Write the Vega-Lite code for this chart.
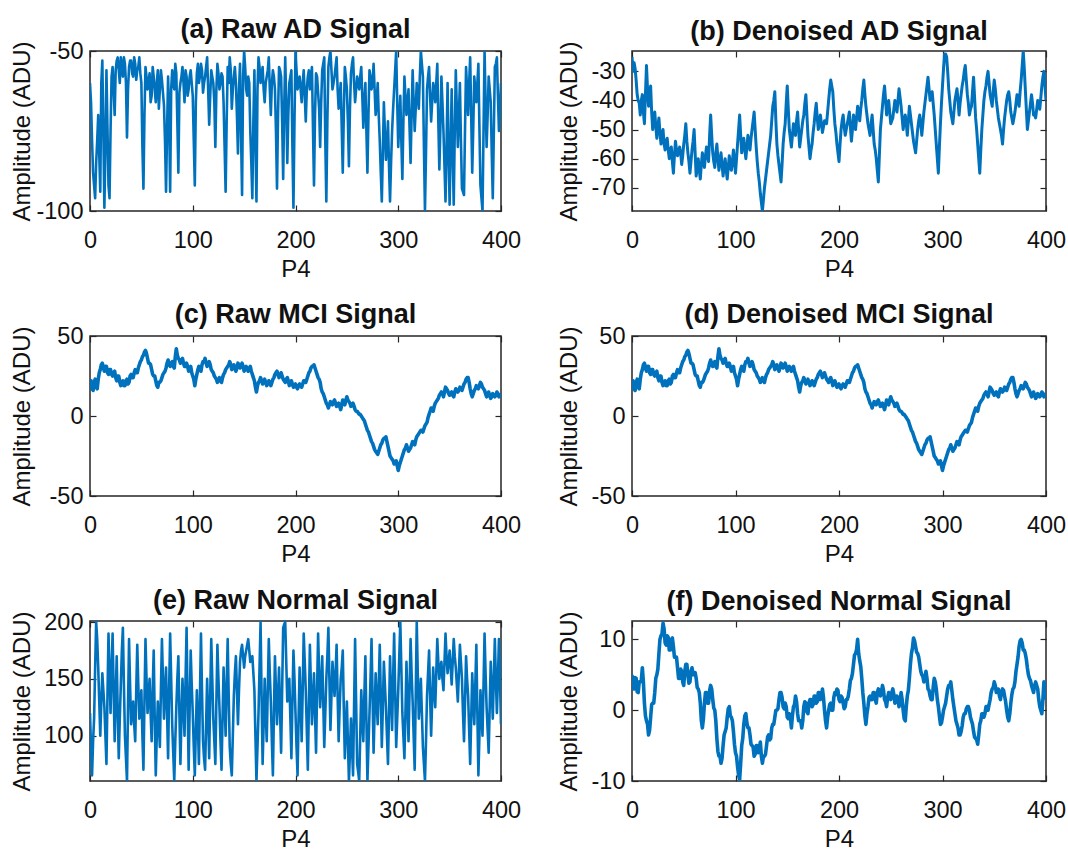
{
"$schema": "https://vega.github.io/schema/vega-lite/v6.json",
"background": "white",
"padding": {"left": 9, "top": 15, "right": 0, "bottom": 0},
"bounds": "flush",
"columns": 2,
"spacing": {"row": 125, "column": 131},
"config": {
  "font": "Liberation Sans",
  "view": {"stroke": "#262626", "strokeWidth": 1.5},
  "axis": {"grid": false, "domain": false, "ticks": true, "tickSize": -6, "tickColor": "#262626", "tickWidth": 1.2, "labelFontSize": 23.5, "labelColor": "#111", "labelPadding": 13, "labelFlush": false, "labelOverlap": false, "labelExpr": "'' + datum.value", "titleFontSize": 24, "titleFontWeight": "normal", "titleColor": "#111"},
  "title": {"fontSize": 27, "fontWeight": "bold", "color": "#111", "offset": -5, "anchor": "middle"},
  "line": {"color": "#0072BD", "strokeWidth": 2.6, "strokeJoin": "round"}
},
"datasets": {"sig": [
{"x":0,"a":-60,"b":-25,"c":20,"e":120,"f":5},
{"x":2,"a":-78,"b":-27,"c":17,"e":65,"f":3},
{"x":4,"a":-92,"b":-33,"c":21,"e":115,"f":4.5},
{"x":6,"a":-85,"b":-40,"c":18,"e":200,"f":2.5},
{"x":8,"a":-70,"b":-45,"c":23,"e":160,"f":4},
{"x":10,"a":-94,"b":-38,"c":29,"e":100,"f":6},
{"x":12,"a":-53,"b":-48,"c":33,"e":155,"f":1},
{"x":14,"a":-99,"b":-28,"c":28,"e":125,"f":-1.5},
{"x":16,"a":-56,"b":-42,"c":31,"e":75,"f":-3.5},
{"x":18,"a":-92,"b":-35,"c":26,"e":190,"f":-1},
{"x":20,"a":-75,"b":-50,"c":29,"e":120,"f":1},
{"x":22,"a":-55,"b":-44,"c":25,"e":190,"f":2.5},
{"x":24,"a":-70,"b":-53,"c":28,"e":95,"f":5},
{"x":26,"a":-53,"b":-46,"c":22,"e":170,"f":8},
{"x":28,"a":-56,"b":-55,"c":25,"e":80,"f":10.5},
{"x":30,"a":-52,"b":-50,"c":19,"e":145,"f":12.3},
{"x":32,"a":-58,"b":-57,"c":22,"e":195,"f":9.5},
{"x":34,"a":-54,"b":-53,"c":19,"e":100,"f":10.5},
{"x":36,"a":-77,"b":-60,"c":23,"e":60,"f":8.5},
{"x":38,"a":-55,"b":-56,"c":21,"e":185,"f":10},
{"x":40,"a":-53,"b":-65,"c":26,"e":110,"f":9},
{"x":42,"a":-58,"b":-54,"c":24,"e":130,"f":7.5},
{"x":44,"a":-54,"b":-59,"c":29,"e":95,"f":6},
{"x":46,"a":-56,"b":-56,"c":27,"e":180,"f":4.5},
{"x":48,"a":-52,"b":-62,"c":32,"e":115,"f":5.5},
{"x":50,"a":-60,"b":-55,"c":35,"e":140,"f":3.5},
{"x":52,"a":-93,"b":-48,"c":38,"e":70,"f":6.5},
{"x":54,"a":-55,"b":-58,"c":41,"e":185,"f":5},
{"x":56,"a":-62,"b":-65,"c":36,"e":120,"f":4},
{"x":58,"a":-57,"b":-57,"c":33,"e":150,"f":6},
{"x":60,"a":-64,"b":-50,"c":29,"e":95,"f":5},
{"x":62,"a":-58,"b":-66,"c":25,"e":175,"f":4.5},
{"x":64,"a":-66,"b":-60,"c":22,"e":65,"f":3},
{"x":66,"a":-56,"b":-67,"c":18,"e":130,"f":1},
{"x":68,"a":-62,"b":-58,"c":21,"e":90,"f":-2.5},
{"x":70,"a":-59,"b":-63,"c":24,"e":185,"f":1},
{"x":72,"a":-67,"b":-56,"c":27,"e":115,"f":2.5},
{"x":74,"a":-94,"b":-61,"c":30,"e":160,"f":1},
{"x":76,"a":-58,"b":-45,"c":35,"e":80,"f":3.5},
{"x":78,"a":-94,"b":-58,"c":31,"e":190,"f":1.5},
{"x":80,"a":-56,"b":-63,"c":34,"e":110,"f":0},
{"x":82,"a":-62,"b":-55,"c":30,"e":60,"f":-4},
{"x":84,"a":-57,"b":-64,"c":42,"e":125,"f":-6.5},
{"x":86,"a":-88,"b":-58,"c":36,"e":170,"f":-7.5},
{"x":88,"a":-60,"b":-66,"c":33,"e":75,"f":-5},
{"x":90,"a":-55,"b":-60,"c":36,"e":150,"f":-3},
{"x":92,"a":-66,"b":-67,"c":31,"e":100,"f":-1},
{"x":94,"a":-58,"b":-59,"c":33,"e":195,"f":0.5},
{"x":96,"a":-62,"b":-64,"c":28,"e":70,"f":-1},
{"x":98,"a":-56,"b":-57,"c":31,"e":175,"f":-3},
{"x":100,"a":-64,"b":-65,"c":25,"e":120,"f":-6},
{"x":102,"a":-92,"b":-55,"c":19,"e":65,"f":-8},
{"x":104,"a":-57,"b":-45,"c":26,"e":140,"f":-9.8},
{"x":106,"a":-60,"b":-58,"c":31,"e":75,"f":-5},
{"x":108,"a":-54,"b":-53,"c":28,"e":190,"f":-2},
{"x":110,"a":-63,"b":-60,"c":34,"e":95,"f":-0.5},
{"x":112,"a":-58,"b":-52,"c":36,"e":70,"f":-2.5},
{"x":114,"a":-52,"b":-57,"c":31,"e":150,"f":-3.5},
{"x":116,"a":-73,"b":-50,"c":34,"e":80,"f":-5},
{"x":118,"a":-56,"b":-44,"c":29,"e":185,"f":-6.5},
{"x":120,"a":-60,"b":-56,"c":27,"e":115,"f":-5},
{"x":122,"a":-80,"b":-65,"c":24,"e":75,"f":-6},
{"x":124,"a":-54,"b":-72,"c":21,"e":180,"f":-4.5},
{"x":126,"a":-62,"b":-78,"c":24,"e":125,"f":-7.5},
{"x":128,"a":-57,"b":-70,"c":21,"e":70,"f":-6.5},
{"x":130,"a":-66,"b":-64,"c":26,"e":160,"f":-5},
{"x":132,"a":-94,"b":-58,"c":29,"e":100,"f":-3.5},
{"x":134,"a":-55,"b":-52,"c":31,"e":185,"f":-4},
{"x":136,"a":-52,"b":-42,"c":34,"e":90,"f":-2},
{"x":138,"a":-68,"b":-37,"c":29,"e":65,"f":-1},
{"x":140,"a":-58,"b":-55,"c":32,"e":135,"f":0},
{"x":142,"a":-60,"b":-62,"c":28,"e":170,"f":1.5},
{"x":144,"a":-82,"b":-68,"c":33,"e":110,"f":2.5},
{"x":146,"a":-54,"b":-55,"c":30,"e":165,"f":0.5},
{"x":148,"a":-95,"b":-48,"c":33,"e":180,"f":1},
{"x":150,"a":-50,"b":-35,"c":28,"e":160,"f":-1},
{"x":152,"a":-62,"b":-50,"c":31,"e":175,"f":-0.5},
{"x":154,"a":-58,"b":-56,"c":28,"e":185,"f":-2.5},
{"x":156,"a":-75,"b":-48,"c":31,"e":165,"f":0.5},
{"x":158,"a":-96,"b":-52,"c":26,"e":170,"f":2},
{"x":160,"a":-56,"b":-44,"c":22,"e":140,"f":-0.5},
{"x":162,"a":-97,"b":-56,"c":15,"e":60,"f":-1.5},
{"x":164,"a":-52,"b":-50,"c":21,"e":120,"f":-2.5},
{"x":166,"a":-60,"b":-45,"c":24,"e":200,"f":0.5},
{"x":168,"a":-55,"b":-38,"c":20,"e":75,"f":1},
{"x":170,"a":-66,"b":-52,"c":23,"e":150,"f":-0.5},
{"x":172,"a":-58,"b":-60,"c":19,"e":95,"f":1.5},
{"x":174,"a":-52,"b":-55,"c":22,"e":185,"f":0.5},
{"x":176,"a":-70,"b":-48,"c":19,"e":130,"f":2},
{"x":178,"a":-56,"b":-41,"c":23,"e":65,"f":1},
{"x":180,"a":-62,"b":-50,"c":26,"e":170,"f":2.5},
{"x":182,"a":-93,"b":-45,"c":28,"e":110,"f":1.5},
{"x":184,"a":-55,"b":-51,"c":24,"e":160,"f":3},
{"x":186,"a":-58,"b":-47,"c":27,"e":85,"f":0},
{"x":188,"a":-90,"b":-48,"c":23,"e":195,"f":-2.5},
{"x":190,"a":-52,"b":-40,"c":21,"e":200,"f":0},
{"x":192,"a":-85,"b":-33,"c":24,"e":130,"f":1},
{"x":194,"a":-60,"b":-37,"c":19,"e":150,"f":0},
{"x":196,"a":-56,"b":-48,"c":22,"e":80,"f":2.5},
{"x":198,"a":-99,"b":-55,"c":18,"e":175,"f":3},
{"x":200,"a":-50,"b":-61,"c":20,"e":120,"f":1.5},
{"x":202,"a":-62,"b":-50,"c":17,"e":65,"f":2},
{"x":204,"a":-58,"b":-45,"c":20,"e":160,"f":1},
{"x":206,"a":-66,"b":-52,"c":18,"e":95,"f":0.5},
{"x":208,"a":-56,"b":-48,"c":22,"e":190,"f":1.5},
{"x":210,"a":-72,"b":-44,"c":21,"e":140,"f":3},
{"x":212,"a":-58,"b":-54,"c":25,"e":70,"f":4.5},
{"x":214,"a":-62,"b":-45,"c":28,"e":180,"f":6.5},
{"x":216,"a":-55,"b":-50,"c":31,"e":110,"f":8},
{"x":218,"a":-92,"b":-42,"c":32,"e":155,"f":10},
{"x":220,"a":-57,"b":-47,"c":28,"e":85,"f":7},
{"x":222,"a":-63,"b":-40,"c":24,"e":190,"f":4.5},
{"x":224,"a":-80,"b":-33,"c":21,"e":125,"f":1},
{"x":226,"a":-56,"b":-42,"c":15,"e":170,"f":-2},
{"x":228,"a":-52,"b":-48,"c":12,"e":90,"f":0.5},
{"x":230,"a":-97,"b":-52,"c":8,"e":150,"f":2},
{"x":232,"a":-55,"b":-45,"c":5,"e":195,"f":1.5},
{"x":234,"a":-50,"b":-55,"c":9,"e":105,"f":2.5},
{"x":236,"a":-62,"b":-60,"c":7,"e":165,"f":1},
{"x":238,"a":-58,"b":-68,"c":10,"e":135,"f":3},
{"x":240,"a":-52,"b":-50,"c":6,"e":180,"f":2},
{"x":242,"a":-68,"b":-42,"c":8,"e":95,"f":3.5},
{"x":244,"a":-60,"b":-35,"c":4,"e":150,"f":1.5},
{"x":246,"a":-88,"b":-45,"c":10,"e":175,"f":0.5},
{"x":248,"a":-55,"b":-40,"c":7,"e":80,"f":2.5},
{"x":250,"a":-62,"b":-48,"c":12,"e":130,"f":1.5},
{"x":252,"a":-86,"b":-46,"c":9,"e":60,"f":3},
{"x":254,"a":-57,"b":-40,"c":6,"e":115,"f":1},
{"x":256,"a":-52,"b":-44,"c":8,"e":65,"f":2},
{"x":258,"a":-66,"b":-36,"c":4,"e":185,"f":0.5},
{"x":260,"a":-58,"b":-42,"c":3,"e":75,"f":2.5},
{"x":262,"a":-62,"b":-50,"c":1,"e":60,"f":0},
{"x":264,"a":-55,"b":-45,"c":0,"e":140,"f":-1.5},
{"x":266,"a":-74,"b":-52,"c":-2,"e":95,"f":2},
{"x":268,"a":-60,"b":-42,"c":-5,"e":170,"f":4.5},
{"x":270,"a":-88,"b":-48,"c":-9,"e":60,"f":8},
{"x":272,"a":-56,"b":-54,"c":-12,"e":120,"f":10.2},
{"x":274,"a":-62,"b":-58,"c":-16,"e":185,"f":9},
{"x":276,"a":-54,"b":-50,"c":-19,"e":85,"f":8},
{"x":278,"a":-70,"b":-45,"c":-22,"e":155,"f":6.5},
{"x":280,"a":-60,"b":-52,"c":-24,"e":110,"f":5},
{"x":282,"a":-78,"b":-44,"c":-20,"e":180,"f":4},
{"x":284,"a":-97,"b":-38,"c":-17,"e":90,"f":5.5},
{"x":286,"a":-66,"b":-32,"c":-14,"e":165,"f":3},
{"x":288,"a":-84,"b":-40,"c":-13,"e":125,"f":2},
{"x":290,"a":-72,"b":-37,"c":-19,"e":75,"f":1.5},
{"x":292,"a":-97,"b":-45,"c":-25,"e":170,"f":4.5},
{"x":294,"a":-75,"b":-55,"c":-27,"e":105,"f":3},
{"x":296,"a":-62,"b":-65,"c":-30,"e":190,"f":0.5},
{"x":298,"a":-50,"b":-48,"c":-28,"e":90,"f":-2},
{"x":300,"a":-80,"b":-35,"c":-34,"e":140,"f":-1},
{"x":302,"a":-64,"b":-24,"c":-29,"e":200,"f":0.5},
{"x":304,"a":-90,"b":-25,"c":-25,"e":120,"f":2},
{"x":306,"a":-58,"b":-36,"c":-21,"e":80,"f":3.5},
{"x":308,"a":-70,"b":-44,"c":-18,"e":165,"f":4},
{"x":310,"a":-62,"b":-48,"c":-22,"e":95,"f":1.5},
{"x":312,"a":-85,"b":-40,"c":-20,"e":185,"f":-0.5},
{"x":314,"a":-56,"b":-36,"c":-16,"e":130,"f":-2},
{"x":316,"a":-75,"b":-45,"c":-18,"e":70,"f":-3.5},
{"x":318,"a":-60,"b":-38,"c":-13,"e":200,"f":-3},
{"x":320,"a":-68,"b":-33,"c":-11,"e":115,"f":-1},
{"x":322,"a":-50,"b":-28,"c":-9,"e":150,"f":-0.5},
{"x":324,"a":-58,"b":-38,"c":-10,"e":90,"f":0.5},
{"x":326,"a":-100,"b":-45,"c":-6,"e":60,"f":0},
{"x":328,"a":-62,"b":-42,"c":-4,"e":135,"f":-1.5},
{"x":330,"a":-55,"b":-32,"c":1,"e":175,"f":-3},
{"x":332,"a":-72,"b":-46,"c":5,"e":100,"f":-4},
{"x":334,"a":-60,"b":-55,"c":3,"e":160,"f":-4.8},
{"x":336,"a":-66,"b":-65,"c":8,"e":125,"f":-2},
{"x":338,"a":-54,"b":-50,"c":10,"e":185,"f":-0.5},
{"x":340,"a":-87,"b":-40,"c":13,"e":150,"f":-1},
{"x":342,"a":-58,"b":-35,"c":15,"e":165,"f":0.5},
{"x":344,"a":-75,"b":-30,"c":12,"e":140,"f":0},
{"x":346,"a":-97,"b":-38,"c":18,"e":190,"f":1.5},
{"x":348,"a":-60,"b":-42,"c":16,"e":155,"f":3},
{"x":350,"a":-98,"b":-33,"c":13,"e":175,"f":4},
{"x":352,"a":-62,"b":-40,"c":15,"e":145,"f":2.5},
{"x":354,"a":-98,"b":-46,"c":12,"e":185,"f":3},
{"x":356,"a":-56,"b":-50,"c":17,"e":160,"f":1.5},
{"x":358,"a":-80,"b":-55,"c":15,"e":130,"f":3},
{"x":360,"a":-60,"b":-46,"c":18,"e":180,"f":2},
{"x":362,"a":-93,"b":-40,"c":16,"e":150,"f":0},
{"x":364,"a":-95,"b":-37,"c":20,"e":95,"f":-1.5},
{"x":366,"a":-55,"b":-44,"c":23,"e":170,"f":1},
{"x":368,"a":-70,"b":-48,"c":24,"e":135,"f":3},
{"x":370,"a":-52,"b":-44,"c":17,"e":75,"f":4},
{"x":372,"a":-88,"b":-38,"c":12,"e":155,"f":6.5},
{"x":374,"a":-58,"b":-42,"c":16,"e":110,"f":9},
{"x":376,"a":-66,"b":-33,"c":19,"e":180,"f":10},
{"x":378,"a":-54,"b":-23,"c":17,"e":65,"f":8.5},
{"x":380,"a":-92,"b":-36,"c":21,"e":140,"f":8},
{"x":382,"a":-100,"b":-50,"c":18,"e":100,"f":6},
{"x":384,"a":-50,"b":-44,"c":16,"e":190,"f":4.5},
{"x":386,"a":-80,"b":-38,"c":12,"e":125,"f":3.5},
{"x":388,"a":-58,"b":-45,"c":15,"e":85,"f":2.5},
{"x":390,"a":-66,"b":-46,"c":11,"e":165,"f":4},
{"x":392,"a":-96,"b":-40,"c":14,"e":115,"f":3},
{"x":394,"a":-55,"b":-43,"c":12,"e":185,"f":0.5},
{"x":396,"a":-52,"b":-35,"c":15,"e":120,"f":-0.5},
{"x":398,"a":-75,"b":-30,"c":12,"e":185,"f":4},
{"x":400,"a":-60,"b":-40,"c":14,"e":110,"f":1.5},
{"x":1,"a":-66,"b":-30,"c":22,"e":90,"f":3.2},
{"x":3,"a":-88,"b":-29,"c":16,"e":95,"f":4.6},
{"x":5,"a":-96,"b":-38,"c":23,"e":160,"f":2.6},
{"x":7,"a":-78,"b":-41,"c":17,"e":185,"f":4},
{"x":9,"a":-82,"b":-40,"c":27,"e":130,"f":4.2},
{"x":11,"a":-60,"b":-44,"c":32,"e":130,"f":4},
{"x":13,"a":-75,"b":-38,"c":30,"e":140,"f":-0.8},
{"x":15,"a":-80,"b":-36,"c":31,"e":100,"f":-2},
{"x":17,"a":-74,"b":-39,"c":27,"e":135,"f":-2.8},
{"x":19,"a":-96,"b":-44,"c":29,"e":155,"f":0.8},
{"x":21,"a":-58,"b":-46,"c":26,"e":160,"f":1},
{"x":23,"a":-62,"b":-49,"c":27,"e":140,"f":4.5},
{"x":25,"a":-56,"b":-49,"c":24,"e":135,"f":5.8},
{"x":27,"a":-52,"b":-51,"c":25,"e":120,"f":10},
{"x":29,"a":-60,"b":-52,"c":21,"e":115,"f":10.8},
{"x":31,"a":-55,"b":-55,"c":21,"e":175,"f":11.5},
{"x":33,"a":-52,"b":-54,"c":19,"e":145,"f":9.2},
{"x":35,"a":-60,"b":-57,"c":22,"e":80,"f":10.3},
{"x":37,"a":-62,"b":-57,"c":20,"e":125,"f":8.5},
{"x":39,"a":-53,"b":-61,"c":25,"e":145,"f":10.2},
{"x":41,"a":-57,"b":-59,"c":24,"e":120,"f":7.5},
{"x":43,"a":-52,"b":-57,"c":27,"e":110,"f":7.5},
{"x":45,"a":-59,"b":-58,"c":27,"e":140,"f":4.5},
{"x":47,"a":-55,"b":-58,"c":30,"e":145,"f":5.8},
{"x":49,"a":-57,"b":-59,"c":34,"e":125,"f":4},
{"x":51,"a":-80,"b":-52,"c":37,"e":100,"f":5.5},
{"x":53,"a":-70,"b":-54,"c":40,"e":130,"f":6.5},
{"x":55,"a":-58,"b":-61,"c":39,"e":150,"f":3.8},
{"x":57,"a":-60,"b":-61,"c":33,"e":135,"f":5.5},
{"x":59,"a":-66,"b":-54,"c":32,"e":120,"f":5},
{"x":61,"a":-55,"b":-58,"c":26,"e":140,"f":5.3},
{"x":63,"a":-62,"b":-63,"c":25,"e":115,"f":3.2},
{"x":65,"a":-60,"b":-64,"c":19,"e":100,"f":2.5},
{"x":67,"a":-68,"b":-62,"c":21,"e":110,"f":-1.5},
{"x":69,"a":-56,"b":-61,"c":22,"e":140,"f":-1.2},
{"x":71,"a":-63,"b":-59,"c":26,"e":150,"f":2.5},
{"x":73,"a":-78,"b":-59,"c":28,"e":140,"f":1},
{"x":75,"a":-75,"b":-52,"c":33,"e":120,"f":2.8},
{"x":77,"a":-70,"b":-52,"c":32,"e":140,"f":3},
{"x":79,"a":-62,"b":-61,"c":33,"e":150,"f":0.3},
{"x":81,"a":-60,"b":-58,"c":31,"e":85,"f":-1.5},
{"x":83,"a":-54,"b":-60,"c":37,"e":95,"f":-5.8},
{"x":85,"a":-72,"b":-61,"c":38,"e":150,"f":-6.5},
{"x":87,"a":-63,"b":-62,"c":35,"e":120,"f":-6.8},
{"x":89,"a":-58,"b":-63,"c":35,"e":115,"f":-3.5},
{"x":91,"a":-60,"b":-64,"c":33,"e":125,"f":-2.5},
{"x":93,"a":-56,"b":-63,"c":31,"e":150,"f":0.2},
{"x":95,"a":-64,"b":-62,"c":31,"e":130,"f":-0.8},
{"x":97,"a":-58,"b":-61,"c":30,"e":125,"f":-1.5},
{"x":99,"a":-60,"b":-61,"c":27,"e":145,"f":-4.8},
{"x":101,"a":-78,"b":-60,"c":23,"e":90,"f":-6.5},
{"x":103,"a":-66,"b":-50,"c":23,"e":105,"f":-9.2},
{"x":105,"a":-54,"b":-52,"c":29,"e":110,"f":-7.5},
{"x":107,"a":-58,"b":-55,"c":30,"e":135,"f":-4},
{"x":109,"a":-56,"b":-57,"c":32,"e":140,"f":-0.8},
{"x":111,"a":-60,"b":-56,"c":34,"e":80,"f":-1.8},
{"x":113,"a":-55,"b":-55,"c":33,"e":110,"f":-2.5},
{"x":115,"a":-62,"b":-53,"c":32,"e":115,"f":-4.8},
{"x":117,"a":-64,"b":-47,"c":32,"e":135,"f":-5.2},
{"x":119,"a":-58,"b":-50,"c":28,"e":150,"f":-6.2},
{"x":121,"a":-66,"b":-61,"c":25,"e":95,"f":-5},
{"x":123,"a":-62,"b":-68,"c":23,"e":130,"f":-5.5},
{"x":125,"a":-57,"b":-75,"c":22,"e":150,"f":-6.5},
{"x":127,"a":-60,"b":-74,"c":22,"e":95,"f":-6.5},
{"x":129,"a":-58,"b":-67,"c":24,"e":115,"f":-6.2},
{"x":131,"a":-80,"b":-61,"c":27,"e":130,"f":-3.8},
{"x":133,"a":-72,"b":-55,"c":30,"e":145,"f":-4.2},
{"x":135,"a":-60,"b":-47,"c":32,"e":135,"f":-2.5},
{"x":137,"a":-56,"b":-40,"c":32,"e":75,"f":-2},
{"x":139,"a":-62,"b":-47,"c":31,"e":100,"f":0},
{"x":141,"a":-55,"b":-59,"c":30,"e":155,"f":0.2},
{"x":143,"a":-70,"b":-65,"c":30,"e":140,"f":2.5},
{"x":145,"a":-62,"b":-62,"c":32,"e":140,"f":1.8},
{"x":147,"a":-76,"b":-51,"c":31,"e":175,"f":0.2},
{"x":149,"a":-58,"b":-41,"c":31,"e":170,"f":0.5},
{"x":151,"a":-55,"b":-43,"c":30,"e":170,"f":-1.2},
{"x":153,"a":-64,"b":-53,"c":29,"e":180,"f":-1},
{"x":155,"a":-60,"b":-52,"c":30,"e":175,"f":-0.8},
{"x":157,"a":-85,"b":-50,"c":28,"e":168,"f":0.8},
{"x":159,"a":-72,"b":-47,"c":24,"e":155,"f":1.2},
{"x":161,"a":-78,"b":-50,"c":18,"e":100,"f":-1.5},
{"x":163,"a":-62,"b":-53,"c":19,"e":90,"f":-1.5},
{"x":165,"a":-55,"b":-47,"c":22,"e":160,"f":-1.5},
{"x":167,"a":-58,"b":-41,"c":22,"e":135,"f":1.2},
{"x":169,"a":-62,"b":-45,"c":21,"e":110,"f":-0.2},
{"x":171,"a":-60,"b":-56,"c":21,"e":120,"f":1},
{"x":173,"a":-56,"b":-57,"c":20,"e":140,"f":1.5},
{"x":175,"a":-62,"b":-51,"c":21,"e":155,"f":0.8},
{"x":177,"a":-60,"b":-44,"c":21,"e":95,"f":2},
{"x":179,"a":-58,"b":-46,"c":24,"e":120,"f":1.2},
{"x":181,"a":-75,"b":-48,"c":27,"e":140,"f":2.5},
{"x":183,"a":-70,"b":-48,"c":26,"e":135,"f":1.8},
{"x":185,"a":-56,"b":-49,"c":25,"e":120,"f":1.8},
{"x":187,"a":-72,"b":-47,"c":25,"e":140,"f":-1.5},
{"x":189,"a":-68,"b":-44,"c":22,"e":198,"f":-1},
{"x":191,"a":-66,"b":-36,"c":23,"e":165,"f":0.8},
{"x":193,"a":-70,"b":-35,"c":22,"e":140,"f":0},
{"x":195,"a":-58,"b":-43,"c":20,"e":115,"f":1.8},
{"x":197,"a":-80,"b":-51,"c":20,"e":130,"f":2.2},
{"x":199,"a":-72,"b":-58,"c":19,"e":150,"f":2.8},
{"x":201,"a":-56,"b":-55,"c":18,"e":90,"f":1.2},
{"x":203,"a":-60,"b":-47,"c":19,"e":115,"f":1.8},
{"x":205,"a":-62,"b":-49,"c":19,"e":130,"f":0.2},
{"x":207,"a":-60,"b":-50,"c":20,"e":140,"f":1.5},
{"x":209,"a":-64,"b":-46,"c":22,"e":165,"f":2},
{"x":211,"a":-62,"b":-49,"c":23,"e":105,"f":4.2},
{"x":213,"a":-56,"b":-50,"c":27,"e":125,"f":5.2},
{"x":215,"a":-58,"b":-47,"c":30,"e":145,"f":7.8},
{"x":217,"a":-74,"b":-46,"c":31,"e":130,"f":8.6},
{"x":219,"a":-70,"b":-44,"c":30,"e":120,"f":8},
{"x":221,"a":-58,"b":-43,"c":26,"e":140,"f":6.2},
{"x":223,"a":-68,"b":-36,"c":23,"e":155,"f":2.5},
{"x":225,"a":-66,"b":-38,"c":17,"e":145,"f":-0.8},
{"x":227,"a":-54,"b":-45,"c":14,"e":130,"f":-0.5},
{"x":229,"a":-78,"b":-50,"c":10,"e":120,"f":1.8},
{"x":231,"a":-72,"b":-48,"c":7,"e":170,"f":1.5},
{"x":233,"a":-52,"b":-50,"c":7,"e":150,"f":2.5},
{"x":235,"a":-56,"b":-57,"c":8,"e":135,"f":1.5},
{"x":237,"a":-60,"b":-64,"c":9,"e":150,"f":2.5},
{"x":239,"a":-55,"b":-59,"c":8,"e":155,"f":2.8},
{"x":241,"a":-62,"b":-46,"c":7,"e":135,"f":2.5},
{"x":243,"a":-64,"b":-38,"c":6,"e":125,"f":2.8},
{"x":245,"a":-74,"b":-40,"c":7,"e":160,"f":1.2},
{"x":247,"a":-70,"b":-42,"c":9,"e":125,"f":1.8},
{"x":249,"a":-58,"b":-44,"c":10,"e":105,"f":2.2},
{"x":251,"a":-72,"b":-47,"c":10,"e":95,"f":2.5},
{"x":253,"a":-68,"b":-43,"c":8,"e":85,"f":2.2},
{"x":255,"a":-54,"b":-42,"c":7,"e":90,"f":1.2},
{"x":257,"a":-60,"b":-40,"c":6,"e":125,"f":1.5},
{"x":259,"a":-62,"b":-39,"c":3,"e":130,"f":1.2},
{"x":261,"a":-60,"b":-46,"c":2,"e":68,"f":1.5},
{"x":263,"a":-58,"b":-47,"c":1,"e":100,"f":-1.2},
{"x":265,"a":-64,"b":-48,"c":-1,"e":115,"f":0.5},
{"x":267,"a":-66,"b":-47,"c":-3,"e":135,"f":2.8},
{"x":269,"a":-75,"b":-45,"c":-7,"e":115,"f":6.5},
{"x":271,"a":-70,"b":-51,"c":-10,"e":90,"f":8.8},
{"x":273,"a":-58,"b":-56,"c":-14,"e":150,"f":9.8},
{"x":275,"a":-60,"b":-54,"c":-17,"e":135,"f":8.2},
{"x":277,"a":-62,"b":-47,"c":-21,"e":120,"f":7.5},
{"x":279,"a":-66,"b":-48,"c":-23,"e":130,"f":5.5},
{"x":281,"a":-70,"b":-48,"c":-22,"e":145,"f":4.8},
{"x":283,"a":-88,"b":-41,"c":-18,"e":135,"f":4.5},
{"x":285,"a":-82,"b":-35,"c":-15,"e":125,"f":4.5},
{"x":287,"a":-75,"b":-36,"c":-14,"e":145,"f":2.8},
{"x":289,"a":-80,"b":-38,"c":-16,"e":100,"f":1.5},
{"x":291,"a":-86,"b":-41,"c":-22,"e":120,"f":3.2},
{"x":293,"a":-85,"b":-50,"c":-26,"e":135,"f":4},
{"x":295,"a":-68,"b":-60,"c":-28,"e":150,"f":1.5},
{"x":297,"a":-56,"b":-56,"c":-29,"e":140,"f":-0.8},
{"x":299,"a":-66,"b":-41,"c":-31,"e":115,"f":-1.8},
{"x":301,"a":-72,"b":-29,"c":-31,"e":170,"f":0},
{"x":303,"a":-78,"b":-24,"c":-27,"e":160,"f":1},
{"x":305,"a":-72,"b":-30,"c":-23,"e":100,"f":3},
{"x":307,"a":-64,"b":-40,"c":-20,"e":120,"f":3.5},
{"x":309,"a":-66,"b":-46,"c":-20,"e":130,"f":2.8},
{"x":311,"a":-74,"b":-44,"c":-21,"e":140,"f":0.5},
{"x":313,"a":-70,"b":-38,"c":-18,"e":155,"f":-1.5},
{"x":315,"a":-66,"b":-40,"c":-17,"e":100,"f":-2.5},
{"x":317,"a":-68,"b":-41,"c":-15,"e":135,"f":-3.5},
{"x":319,"a":-64,"b":-35,"c":-12,"e":155,"f":-2.2},
{"x":321,"a":-58,"b":-30,"c":-10,"e":130,"f":-0.5},
{"x":323,"a":-54,"b":-33,"c":-9,"e":120,"f":0.2},
{"x":325,"a":-80,"b":-41,"c":-8,"e":75,"f":0.5},
{"x":327,"a":-82,"b":-43,"c":-5,"e":95,"f":-1},
{"x":329,"a":-58,"b":-37,"c":-1,"e":155,"f":-2},
{"x":331,"a":-64,"b":-39,"c":3,"e":135,"f":-3.8},
{"x":333,"a":-66,"b":-50,"c":4,"e":130,"f":-4.2},
{"x":335,"a":-62,"b":-60,"c":6,"e":140,"f":-3.5},
{"x":337,"a":-60,"b":-57,"c":9,"e":155,"f":-1.5},
{"x":339,"a":-72,"b":-45,"c":11,"e":165,"f":-0.5},
{"x":341,"a":-74,"b":-37,"c":14,"e":160,"f":-0.5},
{"x":343,"a":-66,"b":-32,"c":14,"e":150,"f":0.5},
{"x":345,"a":-86,"b":-34,"c":15,"e":165,"f":0.8},
{"x":347,"a":-80,"b":-40,"c":17,"e":170,"f":2.5},
{"x":349,"a":-82,"b":-37,"c":14,"e":165,"f":3.2},
{"x":351,"a":-80,"b":-36,"c":14,"e":160,"f":3.5},
{"x":353,"a":-82,"b":-43,"c":13,"e":165,"f":3},
{"x":355,"a":-75,"b":-48,"c":15,"e":170,"f":2},
{"x":357,"a":-68,"b":-52,"c":16,"e":145,"f":2.5},
{"x":359,"a":-70,"b":-50,"c":16,"e":155,"f":2.8},
{"x":361,"a":-78,"b":-43,"c":17,"e":165,"f":1.2},
{"x":363,"a":-94,"b":-38,"c":18,"e":120,"f":-1},
{"x":365,"a":-74,"b":-40,"c":21,"e":130,"f":-0.5},
{"x":367,"a":-62,"b":-46,"c":24,"e":150,"f":2.2},
{"x":369,"a":-60,"b":-46,"c":21,"e":105,"f":3.2},
{"x":371,"a":-70,"b":-41,"c":14,"e":115,"f":5.5},
{"x":373,"a":-74,"b":-40,"c":14,"e":130,"f":7.5},
{"x":375,"a":-62,"b":-37,"c":17,"e":145,"f":9.8},
{"x":377,"a":-60,"b":-28,"c":18,"e":120,"f":9.5},
{"x":379,"a":-74,"b":-29,"c":19,"e":100,"f":8.5},
{"x":381,"a":-96,"b":-43,"c":20,"e":120,"f":7.2},
{"x":383,"a":-75,"b":-47,"c":17,"e":145,"f":5},
{"x":385,"a":-66,"b":-41,"c":14,"e":155,"f":4.2},
{"x":387,"a":-70,"b":-41,"c":13,"e":105,"f":3},
{"x":389,"a":-62,"b":-45,"c":13,"e":125,"f":3.5},
{"x":391,"a":-82,"b":-43,"c":12,"e":140,"f":3.5},
{"x":393,"a":-76,"b":-41,"c":13,"e":150,"f":1.5},
{"x":395,"a":-54,"b":-39,"c":13,"e":150,"f":0},
{"x":397,"a":-64,"b":-32,"c":14,"e":150,"f":1.5},
{"x":399,"a":-68,"b":-35,"c":13,"e":150,"f":3}
]},
"data": {"name": "sig"},
"concat": [
{
 "title": "(a) Raw AD Signal", "width": 411, "height": 160,
 "layer": [
  {"mark": {"type": "line", "clip": true},
   "encoding": {
    "x": {"field": "x", "type": "quantitative", "scale": {"domain": [0, 400], "nice": false}, "axis": {"values": [0, 100, 200, 300, 400], "title": "P4", "titleY": 46, "labelPadding": 23}},
    "y": {"field": "a", "type": "quantitative", "scale": {"domain": [-100, -50], "nice": false, "zero": false}, "axis": {"values": [-100, -50], "title": "Amplitude (ADU)", "titleX": -56}}}},
  {"mark": {"type": "line", "opacity": 0, "clip": true},
   "encoding": {
    "x": {"field": "x", "type": "quantitative", "scale": {"domain": [0, 400], "nice": false}, "axis": {"orient": "top", "values": [0, 100, 200, 300, 400], "labels": false, "title": null}},
    "y": {"field": "a", "type": "quantitative", "scale": {"domain": [-100, -50], "nice": false, "zero": false}, "axis": {"orient": "right", "values": [-100, -50], "labels": false, "title": null}}}}
 ],
 "resolve": {"axis": {"x": "independent", "y": "independent"}}
},
{
 "title": "(b) Denoised AD Signal", "width": 414, "height": 160,
 "layer": [
  {"mark": {"type": "line", "clip": true, "strokeWidth": 3},
   "encoding": {
    "x": {"field": "x", "type": "quantitative", "scale": {"domain": [0, 400], "nice": false}, "axis": {"values": [0, 100, 200, 300, 400], "title": "P4", "titleY": 46, "labelPadding": 23}},
    "y": {"field": "b", "type": "quantitative", "scale": {"domain": [-78, -23], "nice": false, "zero": false}, "axis": {"values": [-70, -60, -50, -40, -30], "title": "Amplitude (ADU)", "titleX": -51}}}},
  {"mark": {"type": "line", "opacity": 0, "clip": true},
   "encoding": {
    "x": {"field": "x", "type": "quantitative", "scale": {"domain": [0, 400], "nice": false}, "axis": {"orient": "top", "values": [0, 100, 200, 300, 400], "labels": false, "title": null}},
    "y": {"field": "b", "type": "quantitative", "scale": {"domain": [-78, -23], "nice": false, "zero": false}, "axis": {"orient": "right", "values": [-70, -60, -50, -40, -30], "labels": false, "title": null}}}}
 ],
 "resolve": {"axis": {"x": "independent", "y": "independent"}}
},
{
 "title": "(c) Raw MCI Signal", "width": 411, "height": 160,
 "layer": [
  {"mark": {"type": "line", "clip": true, "strokeWidth": 3.6},
   "encoding": {
    "x": {"field": "x", "type": "quantitative", "scale": {"domain": [0, 400], "nice": false}, "axis": {"values": [0, 100, 200, 300, 400], "title": "P4", "titleY": 46, "labelPadding": 23}},
    "y": {"field": "c", "type": "quantitative", "scale": {"domain": [-50, 50], "nice": false, "zero": false}, "axis": {"values": [-50, 0, 50], "title": "Amplitude (ADU)", "titleX": -56}}}},
  {"mark": {"type": "line", "opacity": 0, "clip": true},
   "encoding": {
    "x": {"field": "x", "type": "quantitative", "scale": {"domain": [0, 400], "nice": false}, "axis": {"orient": "top", "values": [0, 100, 200, 300, 400], "labels": false, "title": null}},
    "y": {"field": "c", "type": "quantitative", "scale": {"domain": [-50, 50], "nice": false, "zero": false}, "axis": {"orient": "right", "values": [-50, 0, 50], "labels": false, "title": null}}}}
 ],
 "resolve": {"axis": {"x": "independent", "y": "independent"}}
},
{
 "title": "(d) Denoised MCI Signal", "width": 414, "height": 160,
 "layer": [
  {"mark": {"type": "line", "clip": true, "strokeWidth": 3.6},
   "encoding": {
    "x": {"field": "x", "type": "quantitative", "scale": {"domain": [0, 400], "nice": false}, "axis": {"values": [0, 100, 200, 300, 400], "title": "P4", "titleY": 46, "labelPadding": 23}},
    "y": {"field": "c", "type": "quantitative", "scale": {"domain": [-50, 50], "nice": false, "zero": false}, "axis": {"values": [-50, 0, 50], "title": "Amplitude (ADU)", "titleX": -51}}}},
  {"mark": {"type": "line", "opacity": 0, "clip": true},
   "encoding": {
    "x": {"field": "x", "type": "quantitative", "scale": {"domain": [0, 400], "nice": false}, "axis": {"orient": "top", "values": [0, 100, 200, 300, 400], "labels": false, "title": null}},
    "y": {"field": "c", "type": "quantitative", "scale": {"domain": [-50, 50], "nice": false, "zero": false}, "axis": {"orient": "right", "values": [-50, 0, 50], "labels": false, "title": null}}}}
 ],
 "resolve": {"axis": {"x": "independent", "y": "independent"}}
},
{
 "title": "(e) Raw Normal Signal", "width": 411, "height": 160,
 "layer": [
  {"mark": {"type": "line", "clip": true},
   "encoding": {
    "x": {"field": "x", "type": "quantitative", "scale": {"domain": [0, 400], "nice": false}, "axis": {"values": [0, 100, 200, 300, 400], "title": "P4", "titleY": 46, "labelPadding": 23}},
    "y": {"field": "e", "type": "quantitative", "scale": {"domain": [60, 201], "nice": false, "zero": false}, "axis": {"values": [100, 150, 200], "title": "Amplitude (ADU)", "titleX": -56}}}},
  {"mark": {"type": "line", "opacity": 0, "clip": true},
   "encoding": {
    "x": {"field": "x", "type": "quantitative", "scale": {"domain": [0, 400], "nice": false}, "axis": {"orient": "top", "values": [0, 100, 200, 300, 400], "labels": false, "title": null}},
    "y": {"field": "e", "type": "quantitative", "scale": {"domain": [60, 201], "nice": false, "zero": false}, "axis": {"orient": "right", "values": [100, 150, 200], "labels": false, "title": null}}}}
 ],
 "resolve": {"axis": {"x": "independent", "y": "independent"}}
},
{
 "title": "(f) Denoised Normal Signal", "width": 414, "height": 160,
 "layer": [
  {"mark": {"type": "line", "clip": true, "strokeWidth": 3.6},
   "encoding": {
    "x": {"field": "x", "type": "quantitative", "scale": {"domain": [0, 400], "nice": false}, "axis": {"values": [0, 100, 200, 300, 400], "title": "P4", "titleY": 46, "labelPadding": 23}},
    "y": {"field": "f", "type": "quantitative", "scale": {"domain": [-10, 12.6], "nice": false, "zero": false}, "axis": {"values": [-10, 0, 10], "title": "Amplitude (ADU)", "titleX": -51}}}},
  {"mark": {"type": "line", "opacity": 0, "clip": true},
   "encoding": {
    "x": {"field": "x", "type": "quantitative", "scale": {"domain": [0, 400], "nice": false}, "axis": {"orient": "top", "values": [0, 100, 200, 300, 400], "labels": false, "title": null}},
    "y": {"field": "f", "type": "quantitative", "scale": {"domain": [-10, 12.6], "nice": false, "zero": false}, "axis": {"orient": "right", "values": [-10, 0, 10], "labels": false, "title": null}}}}
 ],
 "resolve": {"axis": {"x": "independent", "y": "independent"}}
}
]
}
